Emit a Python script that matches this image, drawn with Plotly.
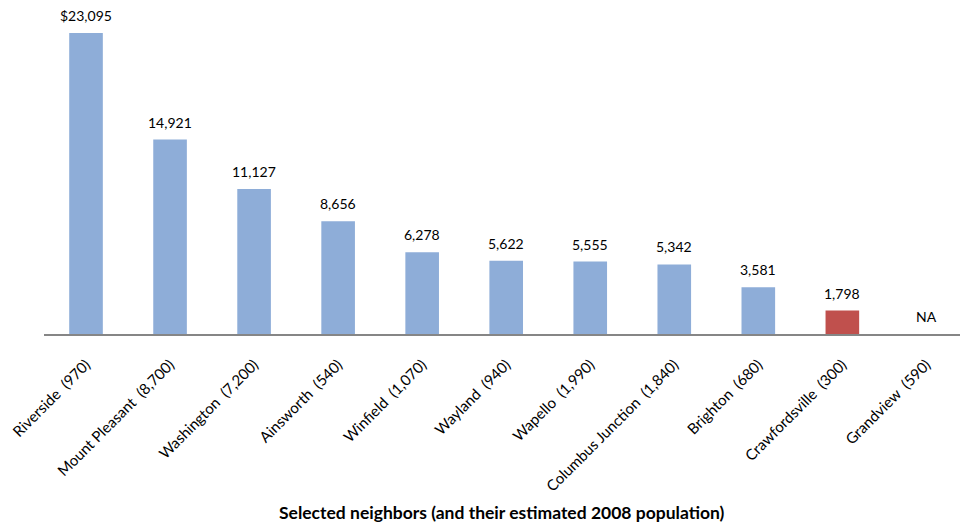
import plotly.graph_objects as go

categories = ["Riverside\u00a0 (970)", "Mount Pleasant\u00a0 (8,700)", "Washington\u00a0 (7,200)",
              "Ainsworth\u00a0 (540)", "Winfield\u00a0 (1,070)", "Wayland\u00a0 (940)",
              "Wapello\u00a0 (1,990)", "Columbus Junction\u00a0 (1,840)", "Brighton\u00a0 (680)",
              "Crawfordsville\u00a0 (300)", "Grandview\u00a0 (590)"]
values = [23095, 14921, 11127, 8656, 6278, 5622, 5555, 5342, 3581, 1798, None]
labels = ["$23,095", "14,921", "11,127", "8,656", "6,278", "5,622", "5,555",
          "5,342", "3,581", "1,798", "NA"]
highlight = "Crawfordsville\u00a0 (300)"
x_title = "Selected neighbors (and their estimated 2008 population)"

BLUE = "#8EADD8"
RED = "#C0504D"
FONT = "Lato, Open Sans, sans-serif"
colors = [RED if c == highlight else BLUE for c in categories]
plot_vals = [v if v is not None else 0 for v in values]

fig = go.Figure()
fig.add_trace(go.Bar(
    x=categories, y=plot_vals, marker=dict(color=colors, line=dict(width=0)),
    width=0.4, hoverinfo="skip",
))

for c, v, t in zip(categories, plot_vals, labels):
    fig.add_annotation(x=c, y=v, text=t, showarrow=False, yanchor="bottom",
                       yshift=7, font=dict(size=14, color="#000", family=FONT))

fig.add_annotation(xref="paper", yref="paper", x=0.5, y=-0.57, text="<b>" + x_title + "</b>",
                   showarrow=False, xanchor="center", yanchor="middle",
                   font=dict(size=17.5, color="#000", family=FONT))

fig.update_layout(
    width=961, height=527,
    margin=dict(l=44, r=1, t=20, b=193),
    plot_bgcolor="white", paper_bgcolor="white",
    showlegend=False,
    font=dict(family=FONT, color="#000"),
    xaxis=dict(
        range=[-0.5, 10.4], tickangle=-45, showline=True, linecolor="#868686",
        linewidth=2, ticks="outside", ticklen=14, tickcolor="rgba(0,0,0,0)",
        tickfont=dict(size=15),
    ),
    yaxis=dict(range=[0, 24100], visible=False, showgrid=False, zeroline=False),
)

fig.write_html("out.html")
